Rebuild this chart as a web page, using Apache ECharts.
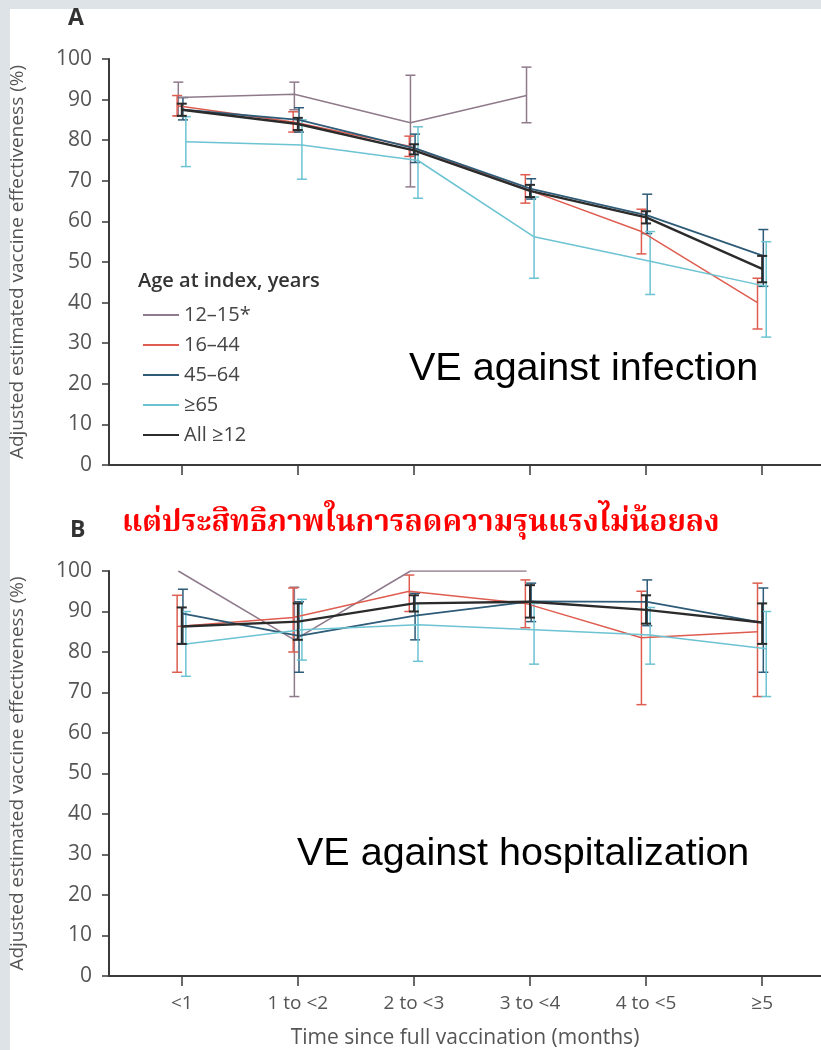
<!DOCTYPE html>
<html>
<head>
<meta charset="utf-8">
<script src="https://cdn.jsdelivr.net/npm/echarts@6/dist/echarts.min.js"></script>
<style>
  html, body { margin: 0; padding: 0; background: #dde3e6; }
  #chart { width: 821px; height: 1050px; }
</style>
</head>
<body>
<div id="chart"></div>
<script>
// 横轴分组
const categories = ['<1', '1 to <2', '2 to <3', '3 to <4', '4 to <5', '≥5'];
const groups = ['12–15*', '16–44', '45–64', '≥65', 'All ≥12'];
const yTicks = [0, 10, 20, 30, 40, 50, 60, 70, 80, 90, 100];

// A: VE against infection
const infection_12_15 = [90.5, 91.3, 84.3, 91, null, null];
const infection_12_15_lo = [86, 87.5, 68.5, 84.3, null, null];
const infection_12_15_hi = [94.3, 94.3, 96, 98, null, null];
const infection_16_44 = [88.5, 84.5, 78.5, 68, 57.5, 40];
const infection_16_44_lo = [86, 82, 76, 64.5, 52, 33.5];
const infection_16_44_hi = [91, 87, 81, 71.5, 63, 46];
const infection_45_64 = [87.5, 85, 78, 68, 61.5, 51.5];
const infection_45_64_lo = [85, 82, 74.5, 65.5, 57, 44];
const infection_45_64_hi = [90.5, 88, 81.5, 70.5, 66.7, 58];
const infection_65 = [79.6, 78.8, 75, 56.2, 50.2, 44];
const infection_65_lo = [73.5, 70.4, 65.7, 46, 42, 31.5];
const infection_65_hi = [85.8, 85, 83.3, 66, 57.5, 55];
const infection_all = [87.5, 84, 77.5, 67.5, 61, 48.3];
const infection_all_lo = [86, 82.5, 76.5, 66, 59.5, 45];
const infection_all_hi = [89, 85.5, 79, 69, 62.5, 51.5];

// B: VE against hospitalization
const hosp_12_15 = [100, 83, 100, 100, null, null];
const hosp_12_15_lo = [null, 69, null, null, null, null];
const hosp_12_15_hi = [null, 96, null, null, null, null];
const hosp_16_44 = [86.3, 88.5, 95, 92, 83.5, 85];
const hosp_16_44_lo = [75, 80, 90, 86, 67, 69];
const hosp_16_44_hi = [94, 95.8, 99, 97.8, 95, 97];
const hosp_45_64 = [89.5, 84, 89, 92.5, 92.4, 87.2];
const hosp_45_64_lo = [82, 75, 83, 87.5, 86.5, 75];
const hosp_45_64_hi = [95.5, 92.4, 94.5, 97, 97.8, 95.8];
const hosp_65 = [82, 85.5, 86.7, 85.5, 84.2, 80.8];
const hosp_65_lo = [74, 78, 77.7, 77, 77, 69];
const hosp_65_hi = [90, 93, 92, 92, 91, 90];
const hosp_all = [86.3, 87.5, 92, 92.4, 90.4, 87.3];
const hosp_all_lo = [82, 83, 90, 88.5, 87, 82];
const hosp_all_hi = [91, 92, 94, 96.5, 94, 92];

// 样式
const colors = ['#8f7a8c', '#de5d50', '#2e5b78', '#6cc3d2', '#2b2b2b'];
const widths = [1.5, 1.5, 1.8, 1.5, 2.4];
const jitter = [-0.03, -0.04, 0.01, 0.035, 0]; // 每组误差线稍微错开
const axisColor = '#3a3a3a';
const labelColor = '#555';
const font = '"Open Sans", sans-serif';

const panelA = [
  [infection_12_15, infection_12_15_lo, infection_12_15_hi],
  [infection_16_44, infection_16_44_lo, infection_16_44_hi],
  [infection_45_64, infection_45_64_lo, infection_45_64_hi],
  [infection_65, infection_65_lo, infection_65_hi],
  [infection_all, infection_all_lo, infection_all_hi]
];
const panelB = [
  [hosp_12_15, hosp_12_15_lo, hosp_12_15_hi],
  [hosp_16_44, hosp_16_44_lo, hosp_16_44_hi],
  [hosp_45_64, hosp_45_64_lo, hosp_45_64_hi],
  [hosp_65, hosp_65_lo, hosp_65_hi],
  [hosp_all, hosp_all_lo, hosp_all_hi]
];

const errRender = (color, width) => (params, api) => {
  const x = api.value(0);
  const p1 = api.coord([x, api.value(1)]);
  const p2 = api.coord([x, api.value(2)]);
  const cap = 5;
  const style = { stroke: color, lineWidth: width };
  return {
    type: 'group',
    children: [
      { type: 'line', shape: { x1: p1[0], y1: p1[1], x2: p2[0], y2: p2[1] }, style },
      { type: 'line', shape: { x1: p1[0] - cap, y1: p1[1], x2: p1[0] + cap, y2: p1[1] }, style },
      { type: 'line', shape: { x1: p2[0] - cap, y1: p2[1], x2: p2[0] + cap, y2: p2[1] }, style }
    ]
  };
};

const series = [];
[panelA, panelB].forEach((panel, pi) => {
  panel.forEach(([est, lo, hi], gi) => {
    const pts = [];
    const bars = [];
    est.forEach((v, i) => {
      if (v != null) pts.push([i + jitter[gi], v]);
      if (lo[i] != null && hi[i] != null) bars.push([i + jitter[gi], lo[i], hi[i]]);
    });
    series.push({
      name: groups[gi],
      type: 'line',
      xAxisIndex: pi,
      yAxisIndex: pi,
      data: pts,
      symbol: 'none',
      z: gi === 4 ? 4 : 3,
      lineStyle: { color: colors[gi], width: widths[gi] },
      itemStyle: { color: colors[gi] },
      animation: false
    });
    series.push({
      type: 'custom',
      xAxisIndex: pi,
      yAxisIndex: pi,
      data: bars,
      encode: { x: 0, y: [1, 2] },
      renderItem: errRender(colors[gi], gi === 4 ? 2 : 1.5),
      z: gi === 4 ? 4 : 3,
      silent: true,
      animation: false
    });
  });
});

const xAxisBase = (gi, showLabel) => ({
  type: 'value',
  gridIndex: gi,
  min: -0.627,
  max: 5.507,
  splitLine: { show: false },
  axisLine: { onZero: false, lineStyle: { color: axisColor, width: 2 } },
  axisTick: { show: true, customValues: [0, 1, 2, 3, 4, 5], length: 10, lineStyle: { color: axisColor, width: 1.5 } },
  axisLabel: {
    show: showLabel,
    customValues: [0, 1, 2, 3, 4, 5],
    formatter: (v) => categories[Math.round(v)],
    color: labelColor,
    fontFamily: font,
    fontSize: 19,
    margin: 18
  }
});

const yAxisBase = (gi) => ({
  type: 'value',
  gridIndex: gi,
  min: 0,
  max: 100,
  interval: 10,
  splitLine: { show: false },
  axisLine: { show: true, onZero: false, lineStyle: { color: axisColor, width: 2 } },
  axisTick: { show: true, length: 7, lineStyle: { color: axisColor, width: 1.5 } },
  axisLabel: {
    formatter: (v) => (yTicks.includes(v) ? String(v) : ''),
    color: labelColor, fontFamily: font, fontSize: 21, margin: 17
  },
  name: 'Adjusted estimated vaccine effectiveness (%)',
  nameLocation: 'middle',
  nameGap: 82,
  nameTextStyle: { color: labelColor, fontFamily: font, fontSize: 19 }
});

const chart = echarts.init(document.getElementById('chart'));
chart.setOption({
  backgroundColor: '#dde3e6',
  animation: false,
  grid: [
    { left: 107, right: 0, top: 59, height: 406 },
    { left: 107, right: 0, top: 571, height: 406 }
  ],
  xAxis: [
    xAxisBase(0, false),
    Object.assign(xAxisBase(1, true), {
      name: 'Time since full vaccination (months)',
      nameLocation: 'middle',
      nameGap: 52,
      nameTextStyle: { color: labelColor, fontFamily: font, fontSize: 21 }
    })
  ],
  yAxis: [yAxisBase(0), yAxisBase(1)],
  legend: {
    data: groups,
    orient: 'vertical',
    left: 138,
    top: 300,
    itemWidth: 36,
    itemHeight: 2,
    itemGap: 10,
    icon: 'rect',
    textStyle: { color: '#444', fontFamily: font, fontSize: 20, padding: [0, 0, 0, 0] }
  },
  graphic: [
    { type: 'rect', left: 10, top: 9, z: -10, shape: { width: 811, height: 1041 }, style: { fill: '#fff' } },
    { type: 'text', left: 68, top: 7, style: { text: 'A', fill: '#333', fontFamily: font, fontSize: 23, fontWeight: 'bold' } },
    { type: 'text', left: 70, top: 519, style: { text: 'B', fill: '#333', fontFamily: font, fontSize: 23, fontWeight: 'bold' } },
    { type: 'text', left: 138, top: 271, style: { text: 'Age at index, years', fill: '#333', fontFamily: font, fontSize: 20, fontWeight: 600 } },
    { type: 'text', left: 122, top: 511, style: { text: 'แต่ประสิทธิภาพในการลดความรุนแรงไม่น้อยลง', fill: '#ff0000', fontFamily: '"Noto Serif Thai", "Noto Sans Thai", Tahoma, serif', fontSize: 29.6, fontWeight: 'bold' } },
    { type: 'text', left: 409, top: 349, style: { text: 'VE against infection', fill: '#000', fontFamily: '"Liberation Sans", Arial, sans-serif', fontSize: 39.5 } },
    { type: 'text', left: 297, top: 834, style: { text: 'VE against hospitalization', fill: '#000', fontFamily: '"Liberation Sans", Arial, sans-serif', fontSize: 39.5 } }
  ],
  series: series
});
</script>
</body>
</html>
